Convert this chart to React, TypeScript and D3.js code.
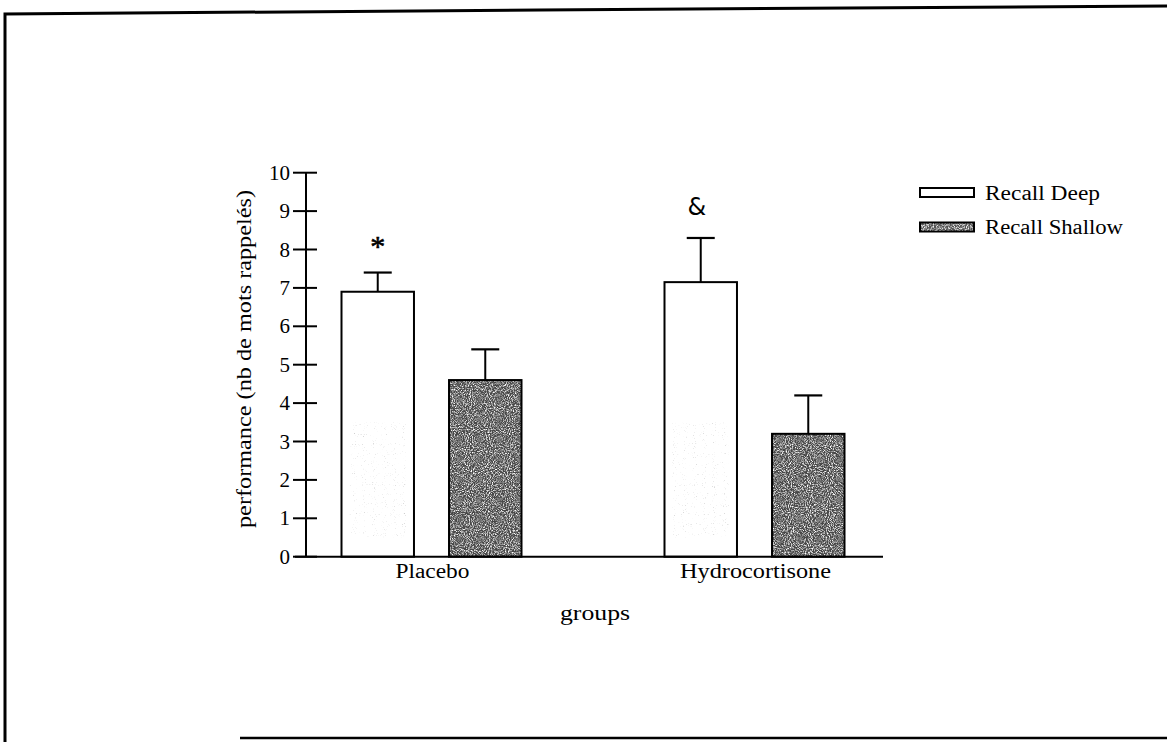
import React from 'react'
import * as d3 from 'd3'

// data
const groups = ['Placebo', 'Hydrocortisone']
const series = ['Recall Deep', 'Recall Shallow']
const deepMeans = [6.9, 7.15]
const deepErr = [0.5, 1.15]
const shallowMeans = [4.6, 3.2]
const shallowErr = [0.8, 1.0]
const marks = ['*', '&'] // significance marks above the deep bars
const yTicks = [0, 1, 2, 3, 4, 5, 6, 7, 8, 9, 10]

const W = 1167
const H = 742
const font = '"Liberation Serif", "Times New Roman", serif'

export default function App() {
    const y = d3.scaleLinear().domain([0, 10]).range([556.7, 172.7])
    const x0 = d3.scaleBand().domain(groups).range([270, 916]).padding(0)
    const x1 = d3.scaleBand().domain(series).range([-90, 90]).paddingInner(0.326).paddingOuter(0)
    const axisX = 306

    const rows = groups.map((g, i) => ({
        group: g,
        bars: [
            {key: series[0], v: deepMeans[i], e: deepErr[i]},
            {key: series[1], v: shallowMeans[i], e: shallowErr[i]},
        ],
    }))

    const bw = x1.bandwidth()
    const cx = (g, s) => x0(g) + x0.bandwidth() / 2 + x1(s)

    return (
        <svg width={W} height={H} style={{position: 'absolute', left: 0, top: 0, background: '#fff'}}>
            <defs>
                <filter id="grain" x="0" y="0" width="100%" height="100%">
                    <feTurbulence type="fractalNoise" baseFrequency="0.95" numOctaves="2" seed="3" result="t" />
                    <feColorMatrix in="t" type="matrix"
                        values="0 0 0 0 1  0 0 0 0 1  0 0 0 0 1  2.6 0 0 0 -1.05" result="w" />
                    <feComposite in="w" in2="SourceGraphic" operator="in" />
                </filter>
                <filter id="grainLight" x="0" y="0" width="100%" height="100%">
                    <feTurbulence type="fractalNoise" baseFrequency="0.9" numOctaves="1" seed="7" result="t" />
                    <feColorMatrix in="t" type="matrix"
                        values="0 0 0 0 0.4  0 0 0 0 0.4  0 0 0 0 0.4  3 0 0 0 -1.95" result="w" />
                    <feComposite in="w" in2="SourceGraphic" operator="in" />
                </filter>
            </defs>

            {/* scanned page frame */}
            <path d={`M5,${H} L5,14 L540,10 L${W},6`} fill="none" stroke="#000" strokeWidth={3} />
            <path d={`M240,${H - 4} L${W},${H - 4}`} fill="none" stroke="#000" strokeWidth={2.5} />

            {/* bars */}
            {rows.map(r => r.bars.map(b => {
                const left = cx(r.group, b.key)
                const top = y(b.v)
                const mid = left + bw / 2
                const dark = b.key === series[1]
                return (
                    <g key={r.group + b.key}>
                        <rect x={left} y={top} width={bw} height={y(0) - top}
                            fill={dark ? '#474747' : '#fff'} />
                        {dark
                            ? <rect x={left} y={top} width={bw} height={y(0) - top} fill="#fff" filter="url(#grain)" />
                            : <rect x={left + 8} y={y(3.5)} width={bw - 16} height={y(0.5) - y(3.5)} fill="#000" filter="url(#grainLight)" />}
                        <rect x={left} y={top} width={bw} height={y(0) - top}
                            fill="none" stroke="#000" strokeWidth={2} />
                        <line x1={mid} x2={mid} y1={top} y2={y(b.v + b.e)} stroke="#000" strokeWidth={2} />
                        <line x1={mid - 14} x2={mid + 14} y1={y(b.v + b.e)} y2={y(b.v + b.e)} stroke="#000" strokeWidth={2.2} />
                    </g>
                )
            }))}

            {/* significance marks */}
            {groups.map((g, i) => {
                const mid = cx(g, series[0]) + bw / 2
                return i === 0
                    ? <text key={g} x={mid} y={y(deepMeans[i] + deepErr[i]) - 17} textAnchor="middle"
                        fontFamily={font} fontSize={30} stroke="#000" strokeWidth={0.6}>{marks[i]}</text>
                    : <text key={g} x={mid - 4} y={215} textAnchor="middle"
                        fontFamily="'DejaVu Sans', sans-serif" fontSize={24}>{marks[i]}</text>
            })}

            {/* y axis */}
            <line x1={axisX} x2={axisX} y1={y(10)} y2={y(0)} stroke="#000" strokeWidth={2} />
            {yTicks.map(t => (
                <g key={t}>
                    <line x1={axisX - 13} x2={axisX + 11} y1={y(t)} y2={y(t)} stroke="#000" strokeWidth={2} />
                    <text x={290} y={y(t) + 7} textAnchor="end" fontFamily={font} fontSize={21}>{t}</text>
                </g>
            ))}
            <text transform="translate(251,359) rotate(-90)" textAnchor="middle" fontFamily={font} fontSize={21}
                textLength={338} lengthAdjust="spacingAndGlyphs">performance (nb de mots rappelés)</text>

            {/* x axis */}
            <line x1={295} x2={883} y1={y(0)} y2={y(0)} stroke="#000" strokeWidth={2} />
            {groups.map(g => {
                const w = g === 'Placebo' ? 74 : 151
                return (
                    <text key={g} x={x0(g) + x0.bandwidth() / 2 + 1} y={578} textAnchor="middle"
                        fontFamily={font} fontSize={20} textLength={w} lengthAdjust="spacingAndGlyphs">{g}</text>
                )
            })}
            <text x={595} y={620} textAnchor="middle" fontFamily={font} fontSize={20}
                textLength={70} lengthAdjust="spacingAndGlyphs">groups</text>

            {/* legend */}
            {series.map((s, i) => {
                const cy = i === 0 ? 192.5 : 227
                return (
                    <g key={s}>
                        <rect x={920} y={cy - 4.5} width={54} height={9} fill={i === 0 ? '#fff' : '#555'}
                            stroke="#000" strokeWidth={2} />
                        {i === 1 && <rect x={921} y={cy - 3.5} width={52} height={7} fill="#fff" filter="url(#grain)" />}
                        <text x={985} y={cy + 7} fontFamily={font} fontSize={20}
                            textLength={i === 0 ? 115 : 138} lengthAdjust="spacingAndGlyphs">{s}</text>
                    </g>
                )
            })}
        </svg>
    )
}
